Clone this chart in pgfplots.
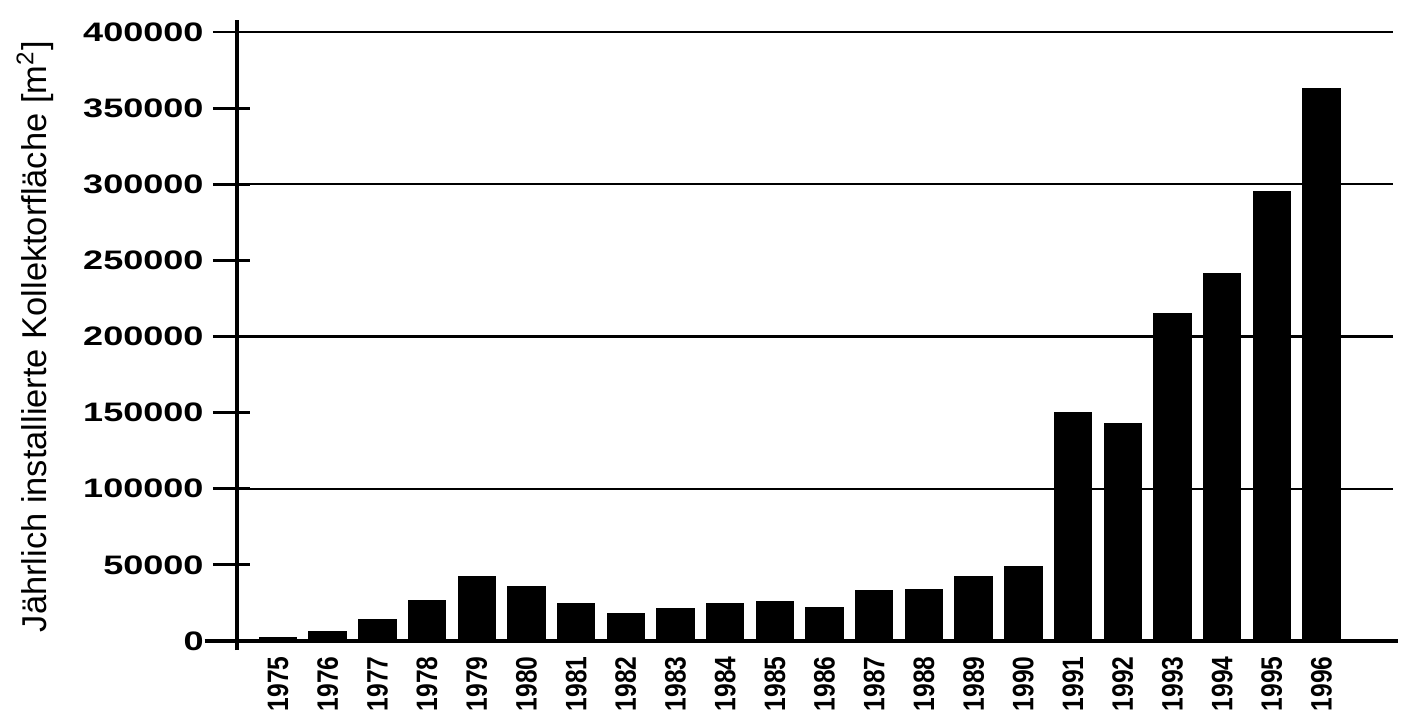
\documentclass[border=0pt]{standalone}
\usepackage{fontspec}
\setmainfont{Liberation Sans}
\newfontfamily\widefont{Liberation Sans}[FakeStretch=1.35]
\usepackage{pgfplots}
\pgfplotsset{compat=1.18}

\begin{document}
\begin{tikzpicture}
\begin{axis}[
    name=ax,
    scale only axis,
    width=115.6mm, height=60.9mm,
    xmin=-0.825, xmax=22.44,
    ymin=0, ymax=400000,
    clip=false,
    ybar, bar width=3.7mm,
    axis line style={draw=none},
    xtick=data,
    xticklabels={1975,1976,1977,1978,1979,1980,1981,1982,1983,1984,1985,1986,1987,1988,1989,1990,1991,1992,1993,1994,1995,1996},
    x tick label style={yshift=1.4mm, rotate=90, yscale=1.2, anchor=east, font=\fontsize{7}{8}\selectfont\bfseries},
    xtick style={draw=none},
    ytick={0,50000,...,400000},
    scaled y ticks=false,
    yticklabel={\pgfmathprintnumber[fixed,precision=0,assume math mode=true,1000 sep={}]{\tick}},
    yticklabel style={font=\fontsize{7.6}{9}\selectfont\widefont\bfseries, xshift=-0.4mm},
    ytick style={draw=none},
    tick align=center, major tick length=3.4mm,
    extra y ticks={100000,200000,300000,400000},
    extra y tick labels={,,,},
    extra y tick style={grid=major, major grid style={line width=0.7pt, black}},
    ylabel={Jährlich installierte Kollektorfläche [m\textsuperscript{2}]},
    ylabel style={at={([xshift=-20.2mm]rel axis cs:0,0.5)}, anchor=center, font=\fontsize{9.8}{11}\selectfont},
]
\addplot[fill=black, draw=black] coordinates {
    (0,2000) (1,6000) (2,14000) (3,26500) (4,42000) (5,35500) (6,24500)
    (7,18000) (8,21500) (9,24500) (10,25500) (11,22000) (12,33000)
    (13,33500) (14,42000) (15,49000) (16,150000) (17,143000) (18,215000)
    (19,241000) (20,295000) (21,363000)
};
% tick marks crossing the y axis
\pgfplotsinvokeforeach{50000,100000,150000,200000,250000,300000,350000,400000}{
    \draw[line width=0.8pt] ([xshift=-2.4mm]axis cs:-0.825,#1) -- ([xshift=1.3mm]axis cs:-0.825,#1);
}
\draw[line width=1.3pt] (rel axis cs:0,-0.015) -- (rel axis cs:0,1.02);
\draw[line width=1.3pt] (rel axis cs:-0.028,0) -- (rel axis cs:1.004,0);
\end{axis}
\pgfresetboundingbox
\path ([xshift=-23.7mm,yshift=-8.4mm]ax.south west) rectangle ([xshift=1.1mm,yshift=3.2mm]ax.north east);
\end{tikzpicture}
\end{document}
